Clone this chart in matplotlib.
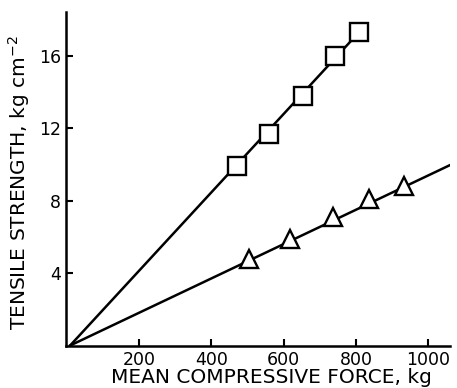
import matplotlib
matplotlib.use("Agg")
import matplotlib.pyplot as plt

# squares (upper series)
sq_force = [471, 559, 653, 742, 808]
sq_strength = [9.9, 11.7, 13.8, 16.0, 17.3]
sq_fit_x = [10, 808]
sq_fit_y = [0, 17.3]

# triangles (lower series)
tri_force = [504, 617, 736, 836, 932]
tri_strength = [4.8, 5.9, 7.1, 8.1, 8.8]
tri_fit_x = [10, 1060]
tri_fit_y = [0, 9.97]

x_ticks = [200, 400, 600, 800, 1000]
y_ticks = [4, 8, 12, 16]

plt.rcParams["font.family"] = ["DejaVu Sans"]

fig = plt.figure(figsize=(4.57, 3.88), dpi=100)
ax = fig.add_axes([0.1455, 0.1095, 0.985 - 0.1455, 0.968 - 0.1095])

ax.plot(sq_fit_x, sq_fit_y, color="black", lw=1.8, zorder=2)
ax.plot(tri_fit_x, tri_fit_y, color="black", lw=1.8, zorder=2)
ax.plot(sq_force, sq_strength, ls="none", marker="s", ms=13, mfc="white",
        mec="black", mew=1.7, zorder=3)
ax.plot(tri_force, tri_strength, ls="none", marker="^", ms=13, mfc="white",
        mec="black", mew=1.7, zorder=3)

ax.set_xlim(0, 1060)
ax.set_ylim(0, 18.4)
ax.set_xticks(x_ticks)
ax.set_yticks(y_ticks)
ax.tick_params(direction="in", length=5, width=1.5, labelsize=12.5, pad=4)
for side in ["top", "right"]:
    ax.spines[side].set_visible(False)
for side in ["left", "bottom"]:
    ax.spines[side].set_linewidth(1.8)

ax.set_xlabel("MEAN COMPRESSIVE FORCE, kg", fontsize=14.5)
ax.xaxis.set_label_coords(0.535, -0.068)
ax.set_ylabel("TENSILE STRENGTH, kg cm$^{-2}$", fontsize=14.5)
ax.yaxis.set_label_coords(-0.09, 0.49)

fig.savefig("out.png", dpi=100)
